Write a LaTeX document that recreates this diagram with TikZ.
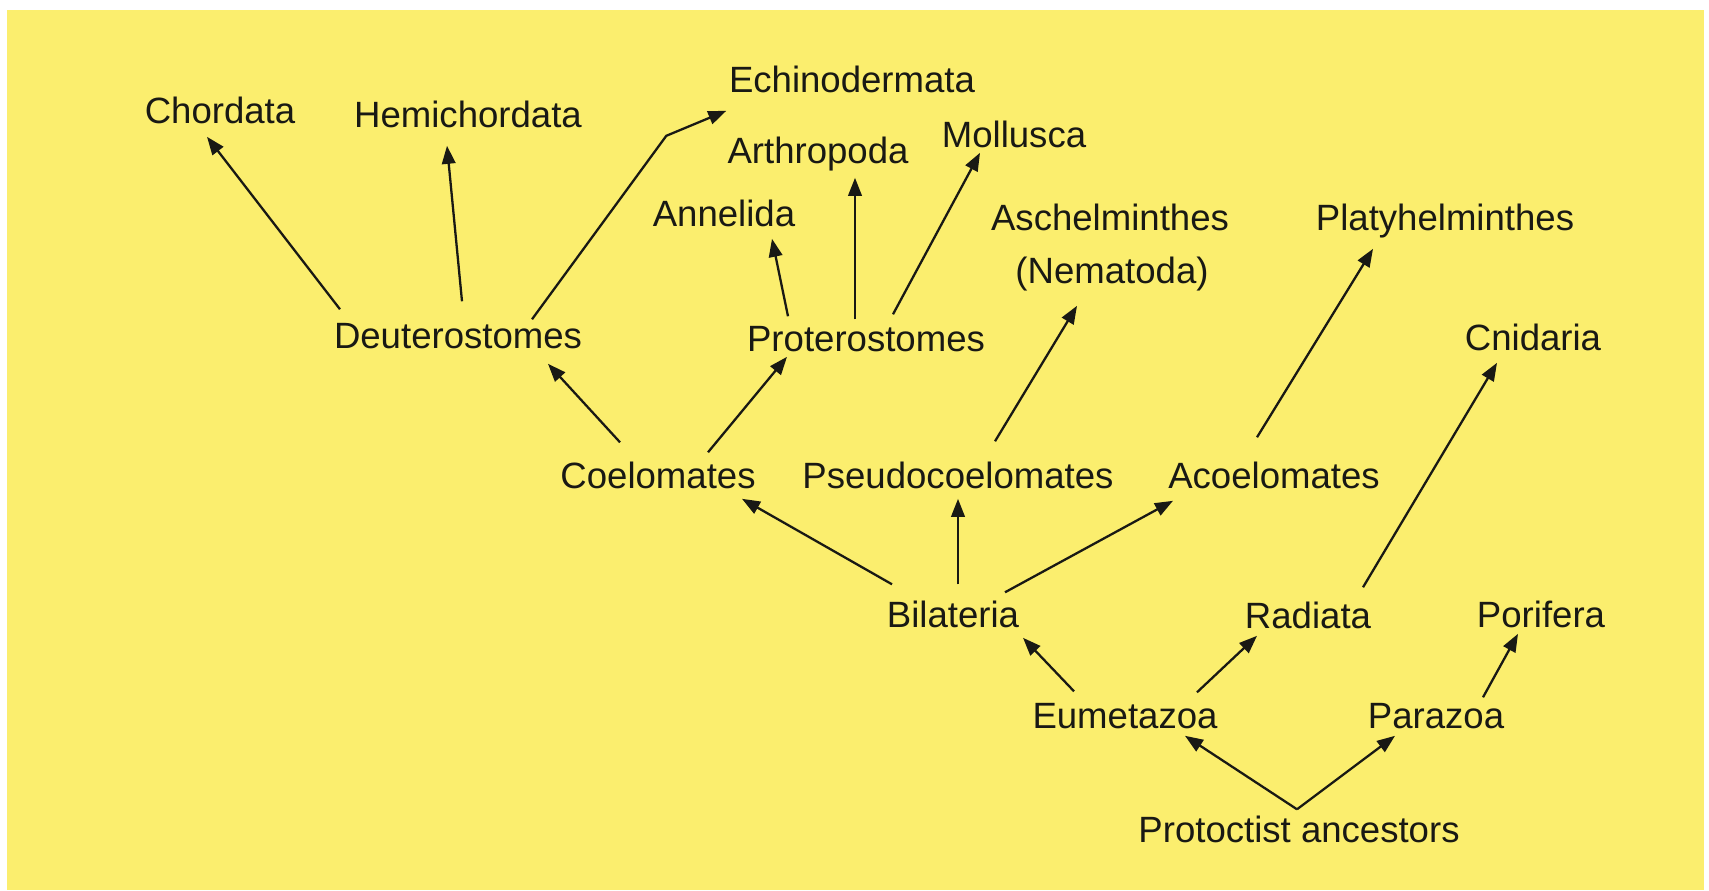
\documentclass[tikz,border=0pt]{standalone}
\usepackage{fontspec}
\setmainfont{Liberation Sans}
\usetikzlibrary{calc, arrows.meta}
\definecolor{fons}{RGB}{251,238,110}
\definecolor{tinta}{RGB}{25,25,20}

\begin{document}
\begin{tikzpicture}[x=0.01cm, y=-0.01cm,
    taxon/.style={anchor=base, inner sep=0pt, text height=7.4pt, text depth=2.3pt, text=tinta,
        font=\fontsize{10.4pt}{12pt}\selectfont},
    fletxa/.style={draw=tinta, line width=0.65pt, -{Triangle[length=1.8mm, width=1.35mm]}}]
    \useasboundingbox (0,0) rectangle (1709,890);
    \fill[fons] (7,10) rectangle (1704,890);
    % Grups superiors
    \node[taxon] (chor) at (220,123) {Chordata};
    \node[taxon] (hemi) at (468,127) {Hemichordata};
    \node[taxon] (echi) at (852,92) {Echinodermata};
    \node[taxon] (arth) at (818,163) {Arthropoda};
    \node[taxon] (moll) at (1014,147) {Mollusca};
    \node[taxon] (anne) at (724,226) {Annelida};
    \node[taxon] (asch) at (1110,230) {Aschelminthes};
    \node[taxon] (nema) at (1112,283) {(Nematoda)};
    \node[taxon] (plat) at (1445,230) {Platyhelminthes};
    \node[taxon] (cnid) at (1533,350) {Cnidaria};
    % Grups intermedis
    \node[taxon] (deut) at (458,348) {Deuterostomes};
    \node[taxon] (prot) at (866,351) {Proterostomes};
    \node[taxon] (coel) at (658,488) {Coelomates};
    \node[taxon] (pseu) at (958,488) {Pseudocoelomates};
    \node[taxon] (acoe) at (1274,488) {Acoelomates};
    \node[taxon] (bila) at (953,627) {Bilateria};
    \node[taxon] (radi) at (1308,628) {Radiata};
    \node[taxon] (pori) at (1541,627) {Porifera};
    \node[taxon] (eume) at (1125,728) {Eumetazoa};
    \node[taxon] (para) at (1436,728) {Parazoa};
    \node[taxon] (anc) at (1299,842) {Protoctist ancestors};
    % Arrel
    \draw[fletxa] ($(anc.north)+(-2,-6)$) -- ($(eume.south)+(60,-1)$);
    \draw[fletxa] ($(anc.north)+(-2,-6)$) -- ($(para.south)+(-41,-1)$);
    \draw[fletxa] ($(para.north)+(47,-4)$) -- ($(pori.south)+(-23,-2)$);
    \draw[fletxa] ($(eume.north)+(-51,-10)$) -- ($(bila.south)+(70,2)$);
    \draw[fletxa] ($(eume.north)+(72,-9)$) -- ($(radi.south)+(-51,-1)$);
    \draw[fletxa] ($(radi.north)+(55,-14)$) -- ($(cnid.south)+(-36,4)$);
    % Bilateria
    \draw[fletxa] ($(bila.north)+(-61,-16)$) -- ($(coel.south)+(84,2)$);
    \draw[fletxa] ($(bila.north)+(5,-16)$) -- ($(pseu.south)+(0,2)$);
    \draw[fletxa] ($(bila.north)+(52,-8)$) -- ($(acoe.south)+(-101,4)$);
    \draw[fletxa] ($(acoe.north)+(-17,-24)$) -- ($(plat.south)+(-72,10)$);
    \draw[fletxa] ($(pseu.north)+(37,-20)$) -- ($(nema.south)+(-35,14)$);
    % Celomats
    \draw[fletxa] ($(coel.north)+(-38,-19)$) -- ($(deut.south)+(90,7)$);
    \draw[fletxa] ($(coel.north)+(50,-9)$) -- ($(prot.south)+(-79,-3)$);
    \draw[fletxa] ($(prot.north)+(-78,-8)$) -- ($(anne.south)+(48,4)$);
    \draw[fletxa] ($(prot.north)+(-11,-5)$) -- ($(arth.south)+(37,6)$);
    \draw[fletxa] ($(prot.north)+(27,-10)$) -- ($(moll.south)+(-34,-3)$);
    \draw[fletxa] ($(deut.north)+(-118,-12)$) -- ($(chor.south)+(-13,5)$);
    \draw[fletxa] ($(deut.north)+(4,-20)$) -- ($(hemi.south)+(-21,10)$);
    \draw[fletxa] ($(deut.north)+(74,-2)$) -- ($(echi.south west)+(-62,35)$) -- ($(echi.south west)+(-2,10)$);
\end{tikzpicture}
\end{document}
